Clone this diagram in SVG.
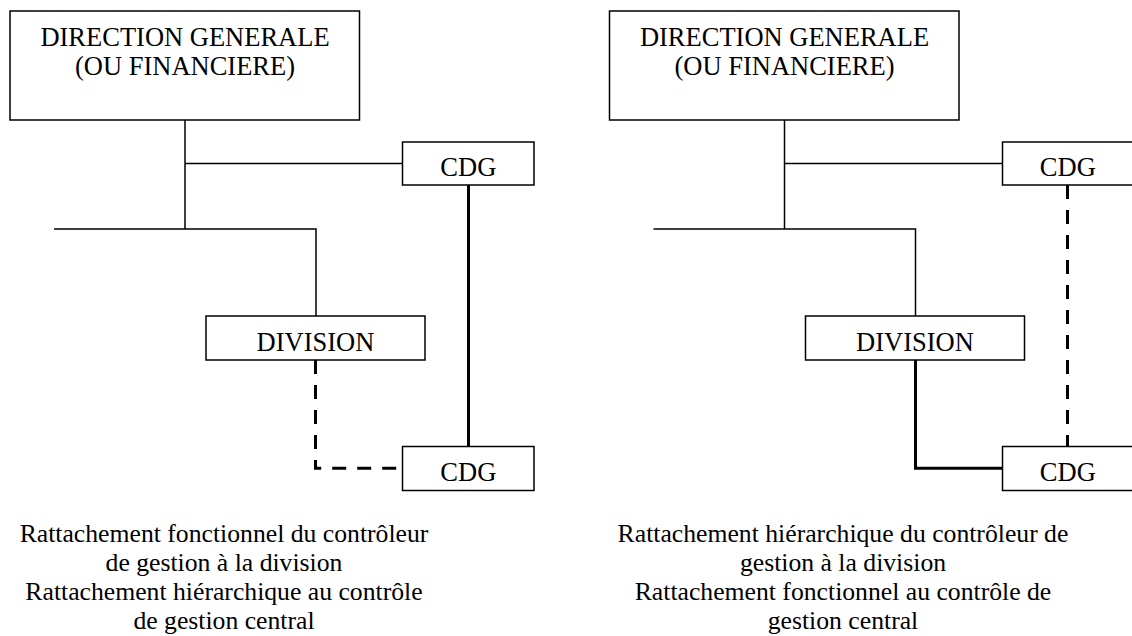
<svg xmlns="http://www.w3.org/2000/svg" width="1132" height="636" viewBox="0 0 1132 636">
<style>
.box{fill:#fff;stroke:#000;stroke-width:1.5}
.lbl{font-size:26.5px;fill:#000;text-anchor:middle}
.cap{font-size:25.7px;fill:#000;text-anchor:middle}
.thin{fill:none;stroke:#000;stroke-width:1.5}
.thick{fill:none;stroke:#000;stroke-width:3}
.dash{fill:none;stroke:#000;stroke-width:3;stroke-dasharray:14 11}
</style>
<rect width="1132" height="636" fill="#fff"/>
<g id="connectors">
<path class="thin" d="M185,120 V229 M185,163.5 H402.5 M54,229 H316 V316"/>
<path class="thick" d="M468.5,185 V446.5"/>
<path class="dash" d="M315.5,360 V468.3 H402.5"/>
<path class="thin" d="M784.5,120 V229 M784.5,163.5 H1002 M653.5,229 H915.5 V316"/>
<path class="thick" d="M915.5,360 V468.3 H1002"/>
<path class="dash" d="M1067.5,185 V446.5"/>
</g>
<g font-family="Liberation Serif, Times New Roman, serif">
<g id="left-dg">
<rect class="box" x="10" y="11" width="349.5" height="109"/>
<text class="lbl" x="185" y="45.7">DIRECTION GENERALE</text>
<text class="lbl" x="185" y="75">(OU FINANCIERE)</text>
</g>
<g id="left-cdg-top">
<rect class="box" x="402.5" y="142" width="131.5" height="43"/>
<text class="lbl" x="468.3" y="175.7">CDG</text>
</g>
<g id="left-division">
<rect class="box" x="206" y="316" width="219" height="44"/>
<text class="lbl" x="315.5" y="350.7">DIVISION</text>
</g>
<g id="left-cdg-bottom">
<rect class="box" x="402.5" y="446.5" width="131.5" height="44"/>
<text class="lbl" x="468.3" y="480.7">CDG</text>
</g>
<g id="left-caption">
<text class="cap" x="224" y="541.5">Rattachement fonctionnel du contrôleur</text>
<text class="cap" x="224" y="570.5">de gestion à la division</text>
<text class="cap" x="224" y="600">Rattachement hiérarchique au contrôle</text>
<text class="cap" x="224" y="628.5">de gestion central</text>
</g>
<g id="right-dg">
<rect class="box" x="609.5" y="11" width="349.5" height="109"/>
<text class="lbl" x="784.5" y="45.7">DIRECTION GENERALE</text>
<text class="lbl" x="784.5" y="75">(OU FINANCIERE)</text>
</g>
<g id="right-cdg-top">
<rect class="box" x="1002.5" y="142" width="131.5" height="43"/>
<text class="lbl" x="1067.8" y="175.7">CDG</text>
</g>
<g id="right-division">
<rect class="box" x="805.5" y="316" width="219" height="44"/>
<text class="lbl" x="915" y="350.7">DIVISION</text>
</g>
<g id="right-cdg-bottom">
<rect class="box" x="1002.5" y="446.5" width="131.5" height="44"/>
<text class="lbl" x="1067.8" y="480.7">CDG</text>
</g>
<g id="right-caption">
<text class="cap" x="843" y="541.5">Rattachement hiérarchique du contrôleur de</text>
<text class="cap" x="843" y="570.5">gestion à la division</text>
<text class="cap" x="843" y="600">Rattachement fonctionnel au contrôle de</text>
<text class="cap" x="843" y="628.5">gestion central</text>
</g>
</g>
</svg>
